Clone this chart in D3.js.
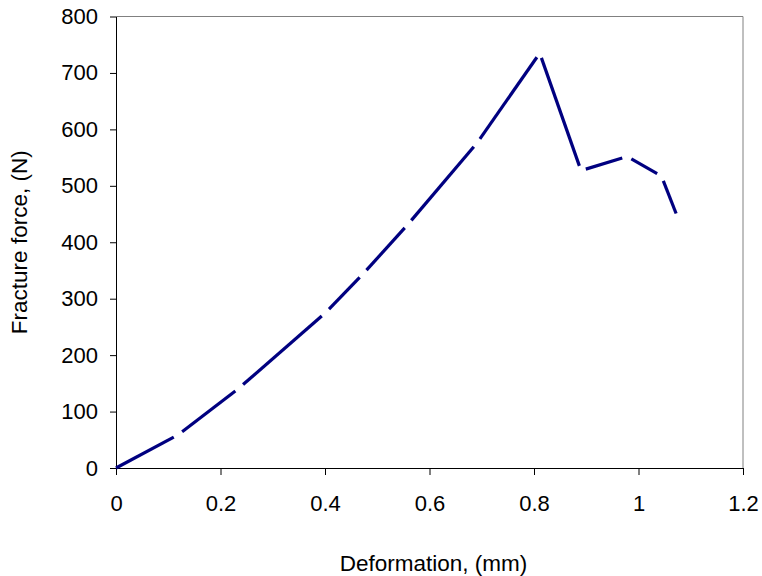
<!DOCTYPE html>
<html>
<head>
<meta charset="utf-8">
<script src="https://cdn.jsdelivr.net/npm/d3@7"></script>
<style>
  body { margin: 0; background: #fff; }
  .axis text { font-family: "Liberation Sans", Arial, sans-serif; font-size: 22px; fill: #000; }
  .axis path, .axis line { stroke: #000; }
</style>
</head>
<body>
<div id="chart"></div>
<script>
// data
var deformation = [0, 0.119, 0.236, 0.401, 0.473, 0.559, 0.691, 0.811, 0.890, 0.978, 1.044, 1.072];
var force       = [0, 59, 142, 275, 344, 432, 576, 735, 527, 552, 517, 451];
var xTicks = [0, 0.2, 0.4, 0.6, 0.8, 1, 1.2];
var yTicks = [0, 100, 200, 300, 400, 500, 600, 700, 800];

var margin = {top: 16.5, right: 19, bottom: 108, left: 116},
    width = 762 - margin.left - margin.right,
    height = 576 - margin.top - margin.bottom;

var svg = d3.select("#chart")
  .append("svg")
    .attr("width", 762)
    .attr("height", 576)
  .append("g")
    .attr("transform", `translate(${margin.left}, ${margin.top})`);

var x = d3.scaleLinear().domain([0, 1.2]).range([0, width]);
var y = d3.scaleLinear().domain([0, 800]).range([height, 0]);

// plot frame (top and right in grey)
svg.append("line")
  .attr("x1", 0).attr("x2", width).attr("y1", 0).attr("y2", 0)
  .attr("stroke", "#808080");
svg.append("line")
  .attr("x1", width).attr("x2", width).attr("y1", 0).attr("y2", height)
  .attr("stroke", "#808080");

// Y axis
svg.append("g")
  .attr("class", "axis")
  .call(d3.axisLeft(y).tickValues(yTicks).tickSize(6).tickSizeOuter(0).tickPadding(12).tickFormat(d3.format("d")));

// X axis
svg.append("g")
  .attr("class", "axis")
  .attr("transform", `translate(0,${height})`)
  .call(d3.axisBottom(x).tickValues(xTicks).tickSize(7).tickSizeOuter(0).tickPadding(20).tickFormat(function(d) { return String(d); }));

// axis titles
svg.append("text")
  .attr("x", width / 2 + 4)
  .attr("y", height + 103)
  .attr("text-anchor", "middle")
  .style("font-family", '"Liberation Sans", Arial, sans-serif')
  .style("font-size", "22.5px")
  .text("Deformation, (mm)");

svg.append("text")
  .attr("transform", `translate(${27 - margin.left}, ${height / 2}) rotate(-90)`)
  .attr("text-anchor", "middle")
  .style("font-family", '"Liberation Sans", Arial, sans-serif')
  .style("font-size", "22.5px")
  .text("Fracture force, (N)");

// the curve: each segment drawn on its own with a small gap at the vertices
var pts = deformation.map(function(d, i) { return [d, force[i]]; });
var line = d3.line()
  .x(function(d) { return x(d[0]); })
  .y(function(d) { return y(d[1]); });

var gap = 10;
for (var i = 0; i < pts.length - 1; i++) {
  var seg = svg.append("path")
    .attr("d", line([pts[i], pts[i + 1]]))
    .attr("fill", "none")
    .attr("stroke", "#000080")
    .attr("stroke-width", 3.2);
  var len = seg.node().getTotalLength();
  var head = i === 0 ? 0 : gap / 2;
  var tail = i === pts.length - 2 ? 0 : gap / 2;
  seg.attr("stroke-dasharray", `${len - head - tail} ${head + tail + 1}`)
     .attr("stroke-dashoffset", -head);
}
</script>
</body>
</html>
